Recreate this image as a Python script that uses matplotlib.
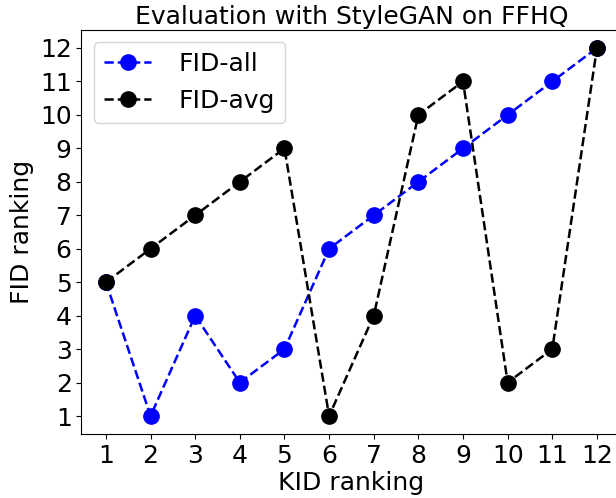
import matplotlib
matplotlib.use('Agg')
import matplotlib.pyplot as plt

kid_rank = [1, 2, 3, 4, 5, 6, 7, 8, 9, 10, 11, 12]
fid_all = [5, 1, 4, 2, 3, 6, 7, 8, 9, 10, 11, 12]
fid_avg = [5, 6, 7, 8, 9, 1, 4, 10, 11, 2, 3, 12]

fig = plt.figure(figsize=(6.16, 4.98), dpi=100)
ax = fig.add_axes([0.1321, 0.1277, 0.8768, 0.8129])

ax.plot(kid_rank, fid_all, '--o', color='blue', lw=1.8, ms=11, label='FID-all')
ax.plot(kid_rank, fid_avg, '--o', color='black', lw=1.8, ms=11, label='FID-avg')

ax.set_xticks(kid_rank)
ax.set_yticks(kid_rank)
ax.tick_params(labelsize=18)
ax.set_xlabel('KID ranking', fontsize=18, labelpad=2)
ax.set_ylabel('FID ranking', fontsize=18)
ax.set_title('Evaluation with StyleGAN on FFHQ', fontsize=18, pad=4)
ax.legend(fontsize=18, loc='upper left', handlelength=1.9, handletextpad=1.1)

plt.savefig('out.png', dpi=100)
